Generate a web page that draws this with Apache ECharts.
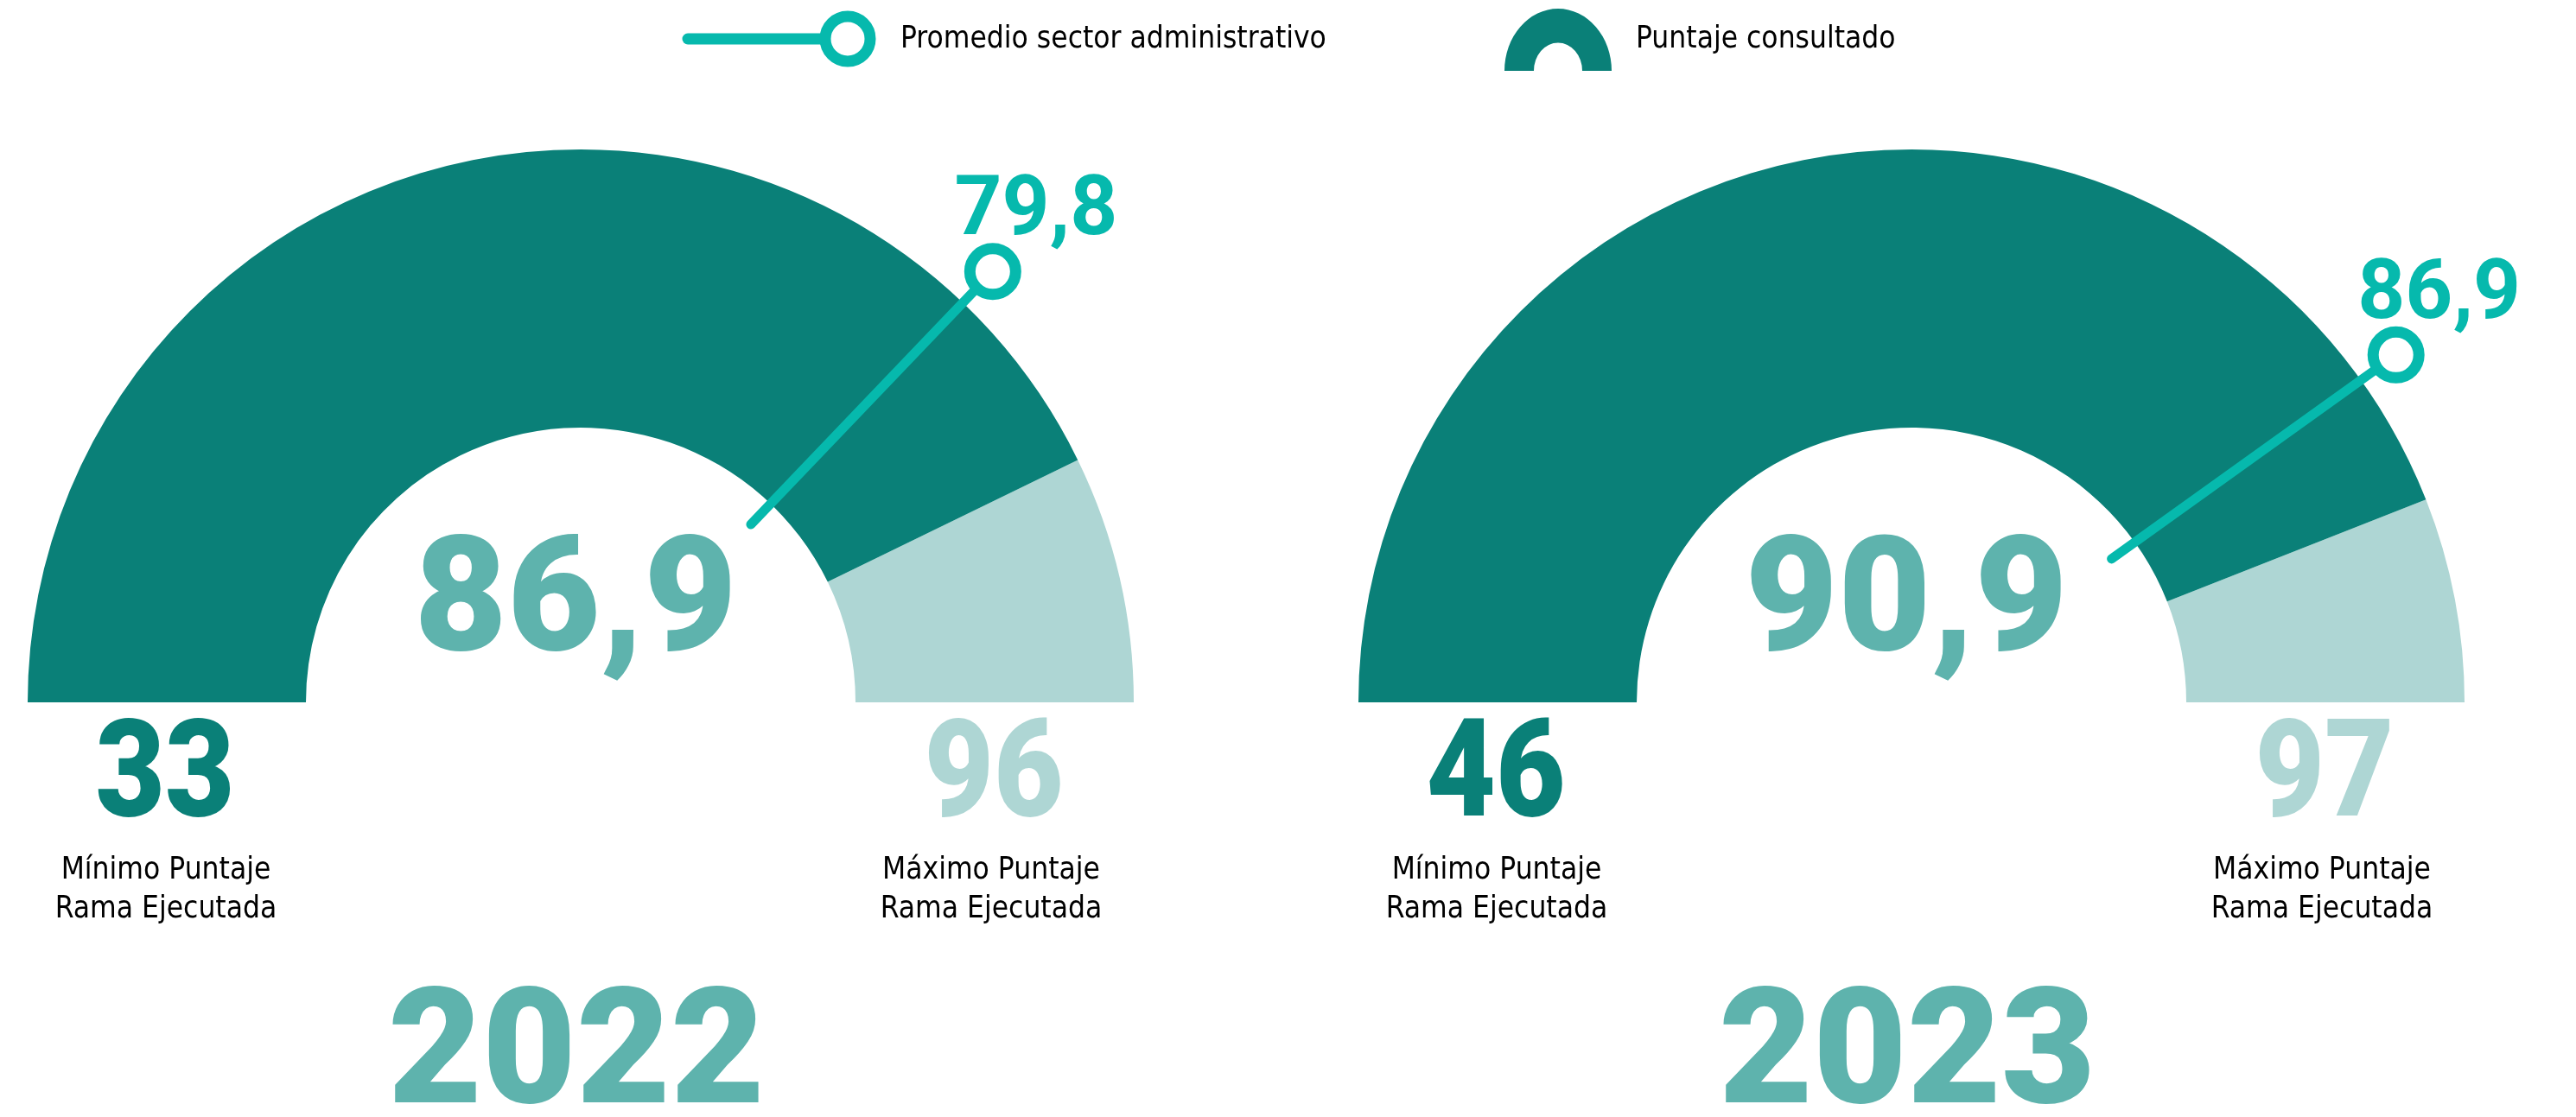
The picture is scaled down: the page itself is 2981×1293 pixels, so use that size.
<!DOCTYPE html>
<html>
<head>
<meta charset="utf-8">
<script src="https://cdn.jsdelivr.net/npm/echarts@6/dist/echarts.min.js"></script>
<style>
  html, body { margin: 0; padding: 0; background: #fff; }
  #main { width: 2981px; height: 1293px; }
</style>
</head>
<body>
<div id="main"></div>
<script>
  // datos por año
  var years = ['2022', '2023'];
  var puntaje = [86.9, 90.9];
  var promedio = [79.8, 86.9];
  var minimo = [33, 46];
  var maximo = [96, 97];

  var DARK = '#0a8078';
  var LIGHT = '#aed6d4';
  var MID = '#5eb3ad';
  var AVG = '#06b9ad';
  var NUM_FONT = 'Roboto';
  var TXT_FONT = '"DejaVu Sans Condensed", "Liberation Sans Narrow", sans-serif';

  var centersX = [672, 2212];
  var cy = 813;
  var R = 640, r0 = 318;

  function fmt(v) {
    return String(v).replace('.', ',');
  }

  var chart = echarts.init(document.getElementById('main'));

  var series = [];
  var polar = [], angleAxis = [], radiusAxis = [];
  var graphic = [];

  years.forEach(function (year, i) {
    var cx = centersX[i];
    var frac = (puntaje[i] - minimo[i]) / (maximo[i] - minimo[i]);

    series.push({
      type: 'gauge',
      name: 'Puntaje consultado',
      center: [cx, cy],
      radius: R,
      startAngle: 180,
      endAngle: 0,
      min: minimo[i],
      max: maximo[i],
      splitNumber: 1,
      axisLine: { lineStyle: { width: R - r0, color: [[frac, DARK], [1, LIGHT]] } },
      axisTick: { show: false },
      splitLine: { show: false },
      axisLabel: { show: false },
      pointer: { show: false },
      anchor: { show: false },
      title: { show: false },
      detail: {
        show: true,
        offsetCenter: [-6, -108],
        formatter: fmt,
        fontFamily: NUM_FONT,
        fontWeight: 900,
        fontSize: 186,
        color: MID
      },
      data: [{ value: puntaje[i], name: 'Puntaje consultado' }]
    });

    polar.push({ center: [cx, cy], radius: 700 });
    angleAxis.push({
      polarIndex: i, type: 'value', min: minimo[i], max: maximo[i],
      startAngle: 180, endAngle: 0, show: false
    });
    radiusAxis.push({ polarIndex: i, type: 'value', min: 0, max: 700, show: false });

    series.push({
      type: 'line',
      name: 'Promedio sector administrativo',
      coordinateSystem: 'polar',
      polarIndex: i,
      lineStyle: { color: AVG, width: 11, cap: 'round' },
      data: [
        { value: [285, promedio[i]], symbol: 'none' },
        {
          value: [690, promedio[i]],
          symbol: 'circle',
          symbolSize: 53,
          itemStyle: { color: '#fff', borderColor: AVG, borderWidth: 13 },
          label: {
            show: true,
            position: 'top',
            distance: -14,
            offset: [50, 0],
            formatter: function (p) { return fmt(p.value[1]); },
            fontFamily: NUM_FONT,
            fontWeight: 700,
            fontSize: 96,
            color: AVG
          }
        }
      ]
    });

    // mínimo / máximo
    graphic.push({
      type: 'text', x: cx - 481, y: 904, scaleX: 0.88,
      style: { text: String(minimo[i]), fill: DARK, font: '900 158px ' + NUM_FONT, align: 'center', verticalAlign: 'middle' }
    });
    graphic.push({
      type: 'text', x: cx + 478, y: 904, scaleX: 0.88,
      style: { text: String(maximo[i]), fill: LIGHT, font: '900 158px ' + NUM_FONT, align: 'center', verticalAlign: 'middle' }
    });
    graphic.push({
      type: 'text', x: cx - 480, y: 1030,
      style: { text: 'Mínimo Puntaje\nRama Ejecutada', fill: '#000', font: '35px ' + TXT_FONT, align: 'center', verticalAlign: 'middle', lineHeight: 45 }
    });
    graphic.push({
      type: 'text', x: cx + 475, y: 1030,
      style: { text: 'Máximo Puntaje\nRama Ejecutada', fill: '#000', font: '35px ' + TXT_FONT, align: 'center', verticalAlign: 'middle', lineHeight: 45 }
    });
    // año
    graphic.push({
      type: 'text', x: cx - 5, y: 1229,
      style: { text: year, fill: MID, font: '900 188px ' + NUM_FONT, align: 'center', verticalAlign: 'middle' }
    });
  });

  // leyenda
  graphic.push({ type: 'line', shape: { x1: 796, y1: 45, x2: 960, y2: 45 }, style: { stroke: AVG, lineWidth: 13, lineCap: 'round' } });
  graphic.push({ type: 'circle', shape: { cx: 981, cy: 45, r: 26 }, style: { fill: '#fff', stroke: AVG, lineWidth: 13 } });
  graphic.push({
    type: 'text', x: 1042, y: 46,
    style: { text: 'Promedio sector administrativo', fill: '#000', font: '35px ' + TXT_FONT, verticalAlign: 'middle' }
  });
  graphic.push({
    type: 'sector', x: 1803, y: 82, scaleY: 1.16,
    shape: { cx: 0, cy: 0, r: 62, r0: 28, startAngle: Math.PI, endAngle: Math.PI * 2 },
    style: { fill: DARK }
  });
  graphic.push({
    type: 'text', x: 1893, y: 46,
    style: { text: 'Puntaje consultado', fill: '#000', font: '35px ' + TXT_FONT, verticalAlign: 'middle' }
  });

  var option = {
    animation: false,
    backgroundColor: '#fff',
    polar: polar,
    angleAxis: angleAxis,
    radiusAxis: radiusAxis,
    series: series,
    graphic: graphic
  };

  chart.setOption(option);
</script>
</body>
</html>
